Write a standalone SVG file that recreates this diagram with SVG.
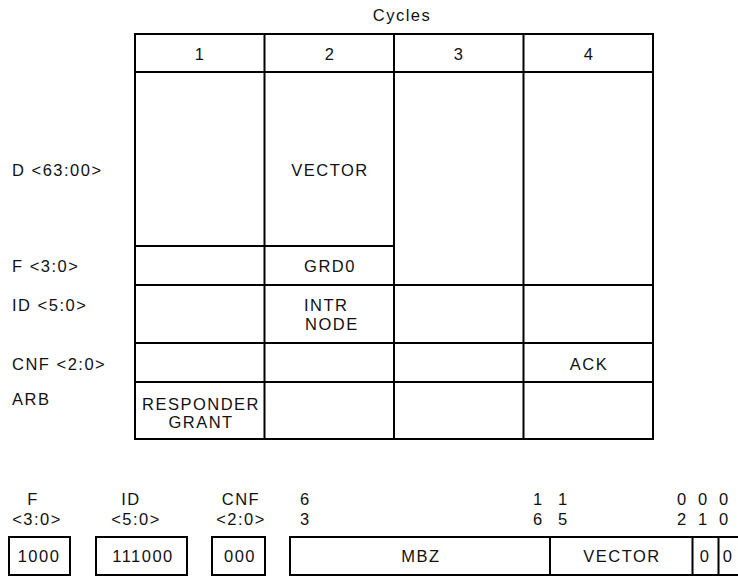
<svg xmlns="http://www.w3.org/2000/svg" width="738" height="577" viewBox="0 0 738 577">
<style>
text{font-family:"Liberation Sans",Arial,sans-serif;font-size:16.5px;fill:#111;letter-spacing:1.5px}
.c{text-anchor:middle}
.ln{stroke:#000;stroke-width:2;fill:none}
.bx{stroke:#000;stroke-width:2;fill:#fff}
</style>
<rect width="738" height="577" fill="#fff"/>
<text class="c" x="402" y="21">Cycles</text>
<g id="table">
<rect class="bx" x="135" y="34" width="518" height="405"/>
<g class="ln">
<line x1="135" y1="72" x2="653" y2="72"/>
<line x1="264.5" y1="34" x2="264.5" y2="439"/>
<line x1="394" y1="34" x2="394" y2="439"/>
<line x1="523.5" y1="34" x2="523.5" y2="439"/>
<line x1="135" y1="246" x2="394" y2="246"/>
<line x1="135" y1="285" x2="653" y2="285"/>
<line x1="135" y1="343" x2="653" y2="343"/>
<line x1="135" y1="382" x2="653" y2="382"/>
</g>
<text class="c" x="200" y="60">1</text>
<text class="c" x="330" y="60">2</text>
<text class="c" x="459" y="60">3</text>
<text class="c" x="589" y="60">4</text>
<text class="c" x="330" y="176">VECTOR</text>
<text class="c" x="330" y="272">GRD0</text>
<text x="304" y="311">INTR</text>
<text x="305" y="330">NODE</text>
<text class="c" x="589" y="370">ACK</text>
<text class="c" x="201" y="410">RESPONDER</text>
<text class="c" x="201" y="428">GRANT</text>
</g>
<g id="row-labels">
<text x="12" y="176">D &lt;63:00&gt;</text>
<text x="12" y="272">F &lt;3:0&gt;</text>
<text x="12" y="311">ID &lt;5:0&gt;</text>
<text x="12" y="370">CNF &lt;2:0&gt;</text>
<text x="12" y="405">ARB</text>
</g>
<g id="field-f">
<text class="c" x="33" y="505">F</text>
<text class="c" x="37" y="525">&lt;3:0&gt;</text>
<rect class="bx" x="9" y="537" width="61" height="38"/>
<text class="c" x="39" y="562">1000</text>
</g>
<g id="field-id">
<text class="c" x="131" y="505">ID</text>
<text class="c" x="136" y="525">&lt;5:0&gt;</text>
<rect class="bx" x="96" y="537" width="91" height="38"/>
<text class="c" x="143" y="562">111000</text>
</g>
<g id="field-cnf">
<text class="c" x="241" y="505">CNF</text>
<text class="c" x="241" y="525">&lt;2:0&gt;</text>
<rect class="bx" x="212" y="537" width="53" height="38"/>
<text class="c" x="240" y="562">000</text>
</g>
<g id="field-d">
<text x="300" y="505">6</text>
<text x="300" y="525">3</text>
<text x="533" y="505">1</text>
<text x="533" y="525">6</text>
<text x="558" y="505">1</text>
<text x="558" y="525">5</text>
<text x="677" y="505">0</text>
<text x="677" y="525">2</text>
<text x="698" y="505">0</text>
<text x="698" y="525">1</text>
<text x="719" y="505">0</text>
<text x="719" y="525">0</text>
<rect class="bx" x="290" y="537" width="460" height="38"/>
<g class="ln">
<line x1="550" y1="537" x2="550" y2="575"/>
<line x1="692.5" y1="537" x2="692.5" y2="575"/>
<line x1="718.5" y1="537" x2="718.5" y2="575"/>
</g>
<text class="c" x="421" y="562">MBZ</text>
<text class="c" x="622" y="562">VECTOR</text>
<text class="c" x="705" y="562">0</text>
<text class="c" x="728" y="562">0</text>
</g>
</svg>
